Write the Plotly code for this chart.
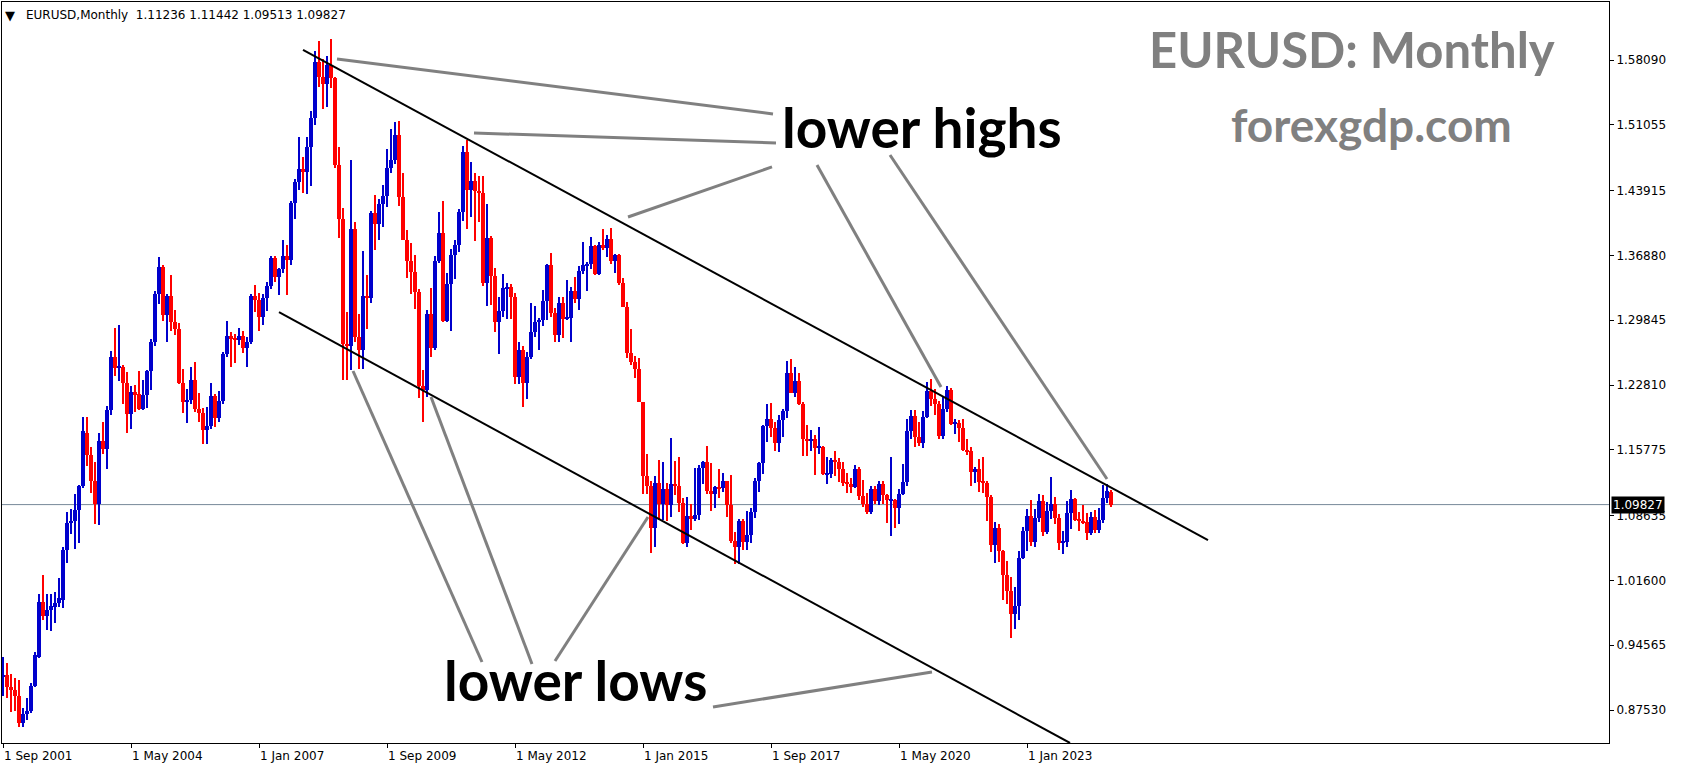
import plotly.graph_objects as go
import pandas as pd

# ---------------- data (EURUSD monthly, Sep 2001 .. Oct 2024) ----------------
start_month = "2001-09-01"

opens = [
    0.9120, 0.9133, 0.9003, 0.8970,
    0.8905, 0.8612, 0.8712, 0.8742, 0.9014, 0.9329, 0.9925, 0.9774, 0.9840, 0.9871, 0.9915, 0.9947,
    1.0490, 1.0783, 1.0805, 1.0924, 1.1180, 1.1760, 1.1521, 1.1239, 1.0990, 1.1673, 1.1587, 1.2010,
    1.2590, 1.2470, 1.2480, 1.2300, 1.1970, 1.2200, 1.2180, 1.2020, 1.2170, 1.2430, 1.2750, 1.3270,
    1.3560, 1.3040, 1.3250, 1.2960, 1.2890, 1.2300, 1.2100, 1.2120, 1.2340, 1.2020, 1.1980, 1.1790,
    1.1840, 1.2160, 1.1920, 1.2110, 1.2620, 1.2810, 1.2790, 1.2770, 1.2810, 1.2680, 1.2750, 1.3250,
    1.3200, 1.3020, 1.3230, 1.3360, 1.3660, 1.3450, 1.3540, 1.3680, 1.3640, 1.4260, 1.4480, 1.4630,
    1.4590, 1.4860, 1.5180, 1.5790, 1.5620, 1.5550, 1.5760, 1.5610, 1.4670, 1.4080, 1.2730, 1.2700,
    1.3970, 1.2800, 1.2660, 1.3250, 1.3230, 1.4150, 1.4030, 1.4250, 1.4330, 1.4640, 1.4720, 1.4990,
    1.4320, 1.3860, 1.3630, 1.3510, 1.3290, 1.2270, 1.2230, 1.3050, 1.2680, 1.3630, 1.3930, 1.2980,
    1.3380, 1.3690, 1.3800, 1.4160, 1.4810, 1.4400, 1.4500, 1.4390, 1.4370, 1.3390, 1.3880, 1.3460,
    1.2960, 1.3080, 1.3330, 1.3340, 1.3240, 1.2370, 1.2660, 1.2300, 1.2580, 1.2860, 1.2960, 1.2990,
    1.3190, 1.3580, 1.3060, 1.2820, 1.3170, 1.3000, 1.3010, 1.3300, 1.3220, 1.3520, 1.3580, 1.3590,
    1.3790, 1.3490, 1.3800, 1.3770, 1.3870, 1.3630, 1.3690, 1.3390, 1.3130, 1.2630, 1.2530, 1.2450,
    1.2100, 1.1290, 1.1190, 1.0730, 1.1220, 1.0990, 1.1150, 1.0980, 1.1210, 1.1180, 1.1000, 1.0570,
    1.0860, 1.0830, 1.0870, 1.1380, 1.1450, 1.1130, 1.1100, 1.1170, 1.1160, 1.1240, 1.0980, 1.0590,
    1.0520, 1.0800, 1.0580, 1.0650, 1.0900, 1.1240, 1.1430, 1.1840, 1.1910, 1.1810, 1.1650, 1.1900,
    1.2000, 1.2410, 1.2190, 1.2320, 1.2080, 1.1690, 1.1680, 1.1690, 1.1600, 1.1605, 1.1310, 1.1320,
    1.1470, 1.1450, 1.1370, 1.1220, 1.1210, 1.1170, 1.1370, 1.1080, 1.0990, 1.0900, 1.1150, 1.1020,
    1.1210, 1.1090, 1.1025, 1.1030, 1.0950, 1.1100, 1.1230, 1.1780, 1.1940, 1.1720, 1.1650, 1.1930,
    1.2220, 1.2130, 1.2070, 1.1730, 1.2020, 1.2230, 1.1860, 1.1870, 1.1810, 1.1580, 1.1560, 1.1340,
    1.1370, 1.1230, 1.1220, 1.1070, 1.0540, 1.0730, 1.0480, 1.0220, 1.0050, 0.9800, 0.9880, 1.0400,
    1.0700, 1.0860, 1.0580, 1.0840, 1.1020, 1.0690, 1.0910, 1.0990, 1.0840, 1.0570, 1.0580, 1.0890,
    1.1040, 1.0820, 1.0810, 1.0790, 1.0670, 1.0850, 1.0710, 1.0820, 1.1050, 1.11236,
]
highs = [
    0.9333, 0.9263, 0.9144, 0.9100,
    0.9079, 0.8775, 0.8883, 0.9050, 0.9380, 1.0012, 1.0218, 1.0012, 1.0012, 1.0034, 1.0186, 1.0520,
    1.0900, 1.0940, 1.1100, 1.1200, 1.1930, 1.1930, 1.1610, 1.1440, 1.1760, 1.1880, 1.2050, 1.2650,
    1.2898, 1.2930, 1.2500, 1.2420, 1.2270, 1.2280, 1.2430, 1.2340, 1.2440, 1.2780, 1.3300, 1.3670,
    1.3580, 1.3270, 1.3470, 1.3090, 1.2950, 1.2450, 1.2240, 1.2480, 1.2530, 1.2190, 1.2030, 1.2040,
    1.2300, 1.2180, 1.2220, 1.2640, 1.2980, 1.2860, 1.2830, 1.2900, 1.2870, 1.2800, 1.3270, 1.3370,
    1.3280, 1.3270, 1.3400, 1.3680, 1.3680, 1.3550, 1.3850, 1.3800, 1.4280, 1.4520, 1.4970, 1.4760,
    1.4970, 1.5260, 1.5905, 1.6018, 1.5820, 1.5850, 1.6038, 1.5620, 1.4870, 1.4200, 1.3070, 1.4720,
    1.4050, 1.3050, 1.3740, 1.3480, 1.4170, 1.4340, 1.4300, 1.4450, 1.4840, 1.5060, 1.5140, 1.5145,
    1.4580, 1.3960, 1.3820, 1.3690, 1.3320, 1.2440, 1.3100, 1.3330, 1.3680, 1.4160, 1.4280, 1.3500,
    1.3760, 1.3860, 1.4190, 1.4880, 1.4940, 1.4700, 1.4580, 1.4550, 1.4550, 1.4250, 1.3900, 1.3550,
    1.3240, 1.3490, 1.3390, 1.3380, 1.3280, 1.2750, 1.2700, 1.2640, 1.3170, 1.3140, 1.3010, 1.3310,
    1.3590, 1.3710, 1.3120, 1.3240, 1.3240, 1.3420, 1.3350, 1.3450, 1.3570, 1.3830, 1.3620, 1.3890,
    1.3800, 1.3830, 1.3970, 1.3910, 1.3990, 1.3700, 1.3700, 1.3440, 1.3180, 1.2890, 1.2600, 1.2570,
    1.2100, 1.1530, 1.1240, 1.1290, 1.1470, 1.1440, 1.1220, 1.1710, 1.1460, 1.1500, 1.1050, 1.1060,
    1.0990, 1.1380, 1.1410, 1.1460, 1.1620, 1.1430, 1.1190, 1.1370, 1.1330, 1.1240, 1.1300, 1.0680,
    1.0830, 1.0830, 1.0910, 1.0950, 1.1270, 1.1450, 1.1850, 1.2070, 1.2090, 1.1880, 1.1960, 1.2020,
    1.2540, 1.2560, 1.2480, 1.2410, 1.2100, 1.1850, 1.1790, 1.1740, 1.1820, 1.1620, 1.1500, 1.1490,
    1.1570, 1.1490, 1.1450, 1.1330, 1.1270, 1.1410, 1.1390, 1.1250, 1.1110, 1.1180, 1.1180, 1.1240,
    1.1240, 1.1100, 1.1500, 1.1040, 1.1150, 1.1420, 1.1910, 1.2010, 1.2010, 1.1880, 1.2000, 1.2310,
    1.2350, 1.2240, 1.2110, 1.2150, 1.2270, 1.2250, 1.1910, 1.1900, 1.1910, 1.1690, 1.1610, 1.1390,
    1.1480, 1.1500, 1.1240, 1.1090, 1.0790, 1.0770, 1.0490, 1.0370, 1.0200, 1.0090, 1.0480, 1.0740,
    1.0930, 1.1030, 1.0930, 1.1100, 1.1090, 1.1010, 1.1280, 1.1060, 1.0880, 1.0700, 1.1020, 1.1140,
    1.1050, 1.0900, 1.0980, 1.0890, 1.0900, 1.0920, 1.0950, 1.1200, 1.1210, 1.11442,
]
lows = [
    0.8900, 0.8883, 0.8732, 0.8742,
    0.8569, 0.8569, 0.8645, 0.8720, 0.9000, 0.9318, 0.9730, 0.9622, 0.9611, 0.9698, 0.9871, 0.9860,
    1.0350, 1.0664, 1.0500, 1.0566, 1.1163, 1.1402, 1.1109, 1.0770, 1.0760, 1.1532, 1.1370, 1.1960,
    1.2380, 1.2320, 1.2080, 1.1760, 1.1800, 1.1990, 1.2010, 1.2010, 1.2030, 1.2230, 1.2700, 1.3160,
    1.2980, 1.2750, 1.2870, 1.2820, 1.2290, 1.1980, 1.1870, 1.2080, 1.1990, 1.1880, 1.1640, 1.1640,
    1.1800, 1.1830, 1.1880, 1.2070, 1.2590, 1.2480, 1.2520, 1.2720, 1.2630, 1.2480, 1.2730, 1.3070,
    1.2870, 1.2930, 1.3080, 1.3320, 1.3400, 1.3260, 1.3500, 1.3260, 1.3580, 1.4080, 1.4400, 1.4360,
    1.4350, 1.4440, 1.5100, 1.5520, 1.5280, 1.5300, 1.5510, 1.4640, 1.3880, 1.2330, 1.2330, 1.2440,
    1.2750, 1.2460, 1.2460, 1.2890, 1.3170, 1.3750, 1.3850, 1.4000, 1.4210, 1.4580, 1.4680, 1.4220,
    1.3860, 1.3440, 1.3270, 1.3110, 1.2140, 1.1880, 1.2150, 1.2590, 1.2660, 1.3600, 1.2970, 1.2960,
    1.2870, 1.3430, 1.3730, 1.4060, 1.3970, 1.4100, 1.3840, 1.4050, 1.3360, 1.3140, 1.3150, 1.2860,
    1.2620, 1.3020, 1.3000, 1.3000, 1.2290, 1.2290, 1.2040, 1.2130, 1.2560, 1.2800, 1.2660, 1.2920,
    1.2990, 1.3020, 1.2750, 1.2750, 1.2790, 1.2990, 1.2750, 1.3170, 1.3100, 1.3490, 1.3300, 1.3540,
    1.3470, 1.3480, 1.3750, 1.3670, 1.3590, 1.3500, 1.3370, 1.3130, 1.2570, 1.2500, 1.2360, 1.2100,
    1.1100, 1.1100, 1.0460, 1.0520, 1.0820, 1.0820, 1.0810, 1.0850, 1.1090, 1.0900, 1.0560, 1.0520,
    1.0710, 1.0810, 1.0820, 1.1210, 1.1100, 1.0910, 1.0950, 1.1050, 1.1120, 1.0850, 1.0570, 1.0340,
    1.0340, 1.0490, 1.0490, 1.0570, 1.0840, 1.1120, 1.1310, 1.1660, 1.1720, 1.1570, 1.1550, 1.1720,
    1.1920, 1.2190, 1.2150, 1.2060, 1.1510, 1.1510, 1.1570, 1.1300, 1.1530, 1.1300, 1.1210, 1.1270,
    1.1290, 1.1230, 1.1180, 1.1110, 1.1110, 1.1160, 1.1030, 1.0960, 1.0880, 1.0880, 1.0990, 1.0980,
    1.0990, 1.0780, 1.0640, 1.0730, 1.0770, 1.1090, 1.1190, 1.1700, 1.1610, 1.1620, 1.1600, 1.1920,
    1.2050, 1.1950, 1.1700, 1.1700, 1.1990, 1.1850, 1.1750, 1.1660, 1.1560, 1.1520, 1.1190, 1.1220,
    1.1120, 1.1110, 1.0810, 1.0470, 1.0350, 1.0360, 0.9950, 0.9900, 0.9540, 0.9630, 0.9730, 1.0390,
    1.0480, 1.0530, 1.0520, 1.0790, 1.0640, 1.0660, 1.0830, 1.0770, 1.0490, 1.0450, 1.0520, 1.0720,
    1.0800, 1.0700, 1.0770, 1.0600, 1.0650, 1.0670, 1.0670, 1.0780, 1.1000, 1.09513,
]
closes = [
    0.9133, 0.9003, 0.8970, 0.8905,
    0.8612, 0.8712, 0.8742, 0.9014, 0.9350, 0.9925, 0.9774, 0.9840, 0.9882, 0.9915, 0.9970, 1.0490,
    1.0783, 1.0805, 1.0924, 1.1180, 1.1782, 1.1521, 1.1239, 1.0990, 1.1673, 1.1587, 1.2010, 1.2590,
    1.2470, 1.2480, 1.2300, 1.1970, 1.2200, 1.2180, 1.2020, 1.2170, 1.2430, 1.2750, 1.3270, 1.3560,
    1.3040, 1.3250, 1.2960, 1.2890, 1.2300, 1.2100, 1.2120, 1.2340, 1.2020, 1.1980, 1.1790, 1.1840,
    1.2160, 1.1920, 1.2110, 1.2620, 1.2810, 1.2790, 1.2770, 1.2810, 1.2680, 1.2750, 1.3250, 1.3200,
    1.3020, 1.3230, 1.3360, 1.3660, 1.3450, 1.3540, 1.3680, 1.3640, 1.4260, 1.4480, 1.4630, 1.4590,
    1.4860, 1.5180, 1.5790, 1.5620, 1.5550, 1.5760, 1.5610, 1.4670, 1.4080, 1.2730, 1.2700, 1.3970,
    1.2800, 1.2660, 1.3250, 1.3230, 1.4150, 1.4030, 1.4250, 1.4330, 1.4640, 1.4720, 1.4990, 1.4320,
    1.3860, 1.3630, 1.3510, 1.3290, 1.2270, 1.2230, 1.3050, 1.2680, 1.3630, 1.3930, 1.2980, 1.3380,
    1.3690, 1.3800, 1.4160, 1.4810, 1.4400, 1.4500, 1.4390, 1.4370, 1.3390, 1.3880, 1.3460, 1.2960,
    1.3080, 1.3330, 1.3340, 1.3240, 1.2370, 1.2660, 1.2300, 1.2580, 1.2860, 1.2960, 1.2990, 1.3190,
    1.3580, 1.3060, 1.2820, 1.3170, 1.3000, 1.3010, 1.3300, 1.3220, 1.3520, 1.3580, 1.3590, 1.3790,
    1.3490, 1.3800, 1.3770, 1.3870, 1.3630, 1.3690, 1.3390, 1.3130, 1.2630, 1.2530, 1.2450, 1.2100,
    1.1290, 1.1190, 1.0730, 1.1220, 1.0990, 1.1150, 1.0980, 1.1210, 1.1180, 1.1000, 1.0570, 1.0860,
    1.0830, 1.0870, 1.1380, 1.1450, 1.1130, 1.1100, 1.1170, 1.1160, 1.1240, 1.0980, 1.0590, 1.0520,
    1.0800, 1.0580, 1.0650, 1.0900, 1.1240, 1.1430, 1.1840, 1.1910, 1.1810, 1.1650, 1.1900, 1.2000,
    1.2410, 1.2190, 1.2320, 1.2080, 1.1690, 1.1680, 1.1690, 1.1600, 1.1605, 1.1310, 1.1320, 1.1470,
    1.1450, 1.1370, 1.1220, 1.1210, 1.1170, 1.1370, 1.1080, 1.0990, 1.0900, 1.1150, 1.1020, 1.1210,
    1.1090, 1.1030, 1.1030, 1.0950, 1.1100, 1.1230, 1.1780, 1.1940, 1.1720, 1.1650, 1.1930, 1.2220,
    1.2130, 1.2070, 1.1730, 1.2020, 1.2230, 1.1860, 1.1870, 1.1810, 1.1580, 1.1560, 1.1340, 1.1370,
    1.1230, 1.1220, 1.1070, 1.0540, 1.0730, 1.0480, 1.0220, 1.0050, 0.9800, 0.9880, 1.0400, 1.0700,
    1.0860, 1.0580, 1.0840, 1.1020, 1.0690, 1.0910, 1.0990, 1.0840, 1.0570, 1.0580, 1.0890, 1.1040,
    1.0820, 1.0810, 1.0790, 1.0670, 1.0850, 1.0710, 1.0820, 1.1050, 1.1135, 1.09827,
]

# axis ticks
x_tick_dates = ["2001-09-01", "2004-05-01", "2007-01-01", "2009-09-01", "2012-05-01",
                "2015-01-01", "2017-09-01", "2020-05-01", "2023-01-01"]
x_tick_labels = ["1 Sep 2001", "1 May 2004", "1 Jan 2007", "1 Sep 2009", "1 May 2012",
                 "1 Jan 2015", "1 Sep 2017", "1 May 2020", "1 Jan 2023"]
y_tick_values = [1.58090, 1.51055, 1.43915, 1.36880, 1.29845, 1.22810,
                 1.15775, 1.08635, 1.01600, 0.94565, 0.87530]
y_tick_labels = ["1.58090", "1.51055", "1.43915", "1.36880", "1.29845", "1.22810",
                 "1.15775", "1.08635", "1.01600", "0.94565", "0.87530"]
last_price = 1.09827
last_price_label = "1.09827"
header_text = "EURUSD,Monthly  1.11236 1.11442 1.09513 1.09827"

# hand-drawn trend lines: (bar position, price) endpoints
channel_lines = [
    ((75.0, 1.5918), (301.25, 1.0598)),
    ((69.0, 1.3073), (266.75, 0.8395)),
]
pointer_lines = [
    ((83.5, 1.5820), (192.5, 1.5223)),
    ((117.75, 1.5017), (193.25, 1.4908)),
    ((156.25, 1.4105), (192.25, 1.4648)),
    ((203.5, 1.4669), (234.5, 1.2259)),
    ((221.75, 1.4778), (276.0, 1.1261)),
    ((87.5, 1.2433), (119.75, 0.9274)),
    ((107.0, 1.2151), (132.25, 0.9253)),
    ((138.0, 0.9285), (161.25, 1.0848)),
    ((177.5, 0.8786), (232.25, 0.9166)),
]

# ---------------- build ----------------
n = len(closes)
assert len(opens) == n and len(highs) == n and len(lows) == n
months = pd.date_range(start_month, periods=n, freq="MS")
pos = list(range(n))
month_index = {d.strftime("%Y-%m-%d"): i for i, d in enumerate(months)}
x_tick_pos = [month_index[d] for d in x_tick_dates]

UP = "#0000CC"
DOWN = "#FF0000"
colors = [UP if c >= o else DOWN for o, c in zip(opens, closes)]
body_base = [min(o, c) for o, c in zip(opens, closes)]
body_h = [max(abs(c - o), 0.0011) for o, c in zip(opens, closes)]
wick_h = [h - l for h, l in zip(highs, lows)]

W, H = 1681, 771
ML, MR, MT, MB = 2, 72, 2, 28
PW, PH = W - ML - MR, H - MT - MB


def px(x):
    return (x - ML) / PW


def py(y):
    return 1 - (y - MT) / PH


fig = go.Figure()
fig.add_trace(go.Bar(x=pos, y=wick_h, base=lows, width=0.25,
                     marker=dict(color=colors, line=dict(width=0)),
                     hoverinfo="skip", showlegend=False))
fig.add_trace(go.Bar(x=pos, y=body_h, base=body_base, width=0.8,
                     marker=dict(color=colors, line=dict(width=0)),
                     customdata=list(zip(opens, highs, lows, closes)),
                     showlegend=False))

shapes = []
shapes.append(dict(type="line", xref="paper", yref="y", x0=0, x1=1,
                   y0=last_price, y1=last_price, layer="below",
                   line=dict(color="#778899", width=1)))
for (a, b) in channel_lines:
    shapes.append(dict(type="line", xref="x", yref="y", x0=a[0], y0=a[1], x1=b[0], y1=b[1],
                       line=dict(color="black", width=2)))
for (a, b) in pointer_lines:
    shapes.append(dict(type="line", xref="x", yref="y", x0=a[0], y0=a[1], x1=b[0], y1=b[1],
                       line=dict(color="#808080", width=3)))

AX_FONT = dict(family="DejaVu Sans", size=12, color="black")
ann = []
for p, lab in zip(x_tick_pos, x_tick_labels):
    ann.append(dict(x=p, y=py(756), xref="x", yref="paper", text=lab, showarrow=False,
                    xanchor="left", yanchor="middle", xshift=-1, font=AX_FONT))
ann.append(dict(x=1, y=last_price, xref="paper", yref="y", text=last_price_label,
                showarrow=False, xanchor="left", yanchor="middle", xshift=2,
                bgcolor="black", borderpad=1,
                font=dict(family="DejaVu Sans", size=12, color="white")))
ann.append(dict(x=px(10), y=py(15), xref="paper", yref="paper", text="▼", showarrow=False,
                xanchor="center", yanchor="middle", font=dict(family="DejaVu Sans", size=13, color="black")))
ann.append(dict(x=px(24), y=py(15), xref="paper", yref="paper", text=header_text, showarrow=False,
                xanchor="left", yanchor="middle", font=AX_FONT))
BIG = dict(family="Lato", weight=700)
ann.append(dict(x=px(922), y=py(127), xref="paper", yref="paper", text="lower highs",
                showarrow=False, xanchor="center", yanchor="middle",
                font=dict(**BIG, size=55, color="black")))
ann.append(dict(x=px(575), y=py(680), xref="paper", yref="paper", text="lower lows",
                showarrow=False, xanchor="center", yanchor="middle",
                font=dict(**BIG, size=55, color="black")))
ann.append(dict(x=px(1352), y=py(49), xref="paper", yref="paper", text="EURUSD: Monthly",
                showarrow=False, xanchor="center", yanchor="middle",
                font=dict(**BIG, size=49, color="#808080")))
ann.append(dict(x=px(1371), y=py(124), xref="paper", yref="paper", text="forexgdp.com",
                showarrow=False, xanchor="center", yanchor="middle",
                font=dict(**BIG, size=46, color="#808080")))

fig.update_layout(
    width=W, height=H,
    margin=dict(l=ML, r=MR, t=MT, b=MB, pad=0),
    paper_bgcolor="white", plot_bgcolor="white",
    barmode="overlay", bargap=0,
    shapes=shapes, annotations=ann,
    showlegend=False,
    xaxis=dict(range=[-0.25, 401.5], tickvals=x_tick_pos, ticktext=x_tick_labels,
               showticklabels=False, ticks="outside", ticklen=4, tickcolor="black",
               showgrid=False, zeroline=False, showline=True, linecolor="black",
               linewidth=1, mirror=True, fixedrange=True),
    yaxis=dict(range=[0.83948, 1.64386], side="right", tickvals=y_tick_values,
               ticktext=y_tick_labels, ticks="outside", ticklen=4, tickcolor="black",
               tickfont=AX_FONT, showgrid=False, zeroline=False, showline=True,
               linecolor="black", linewidth=1, mirror=True, fixedrange=True),
)

fig.write_html("out.html",
               config={"displayModeBar": False},
               post_script="document.body.style.margin='0';document.body.style.overflow='hidden';")
